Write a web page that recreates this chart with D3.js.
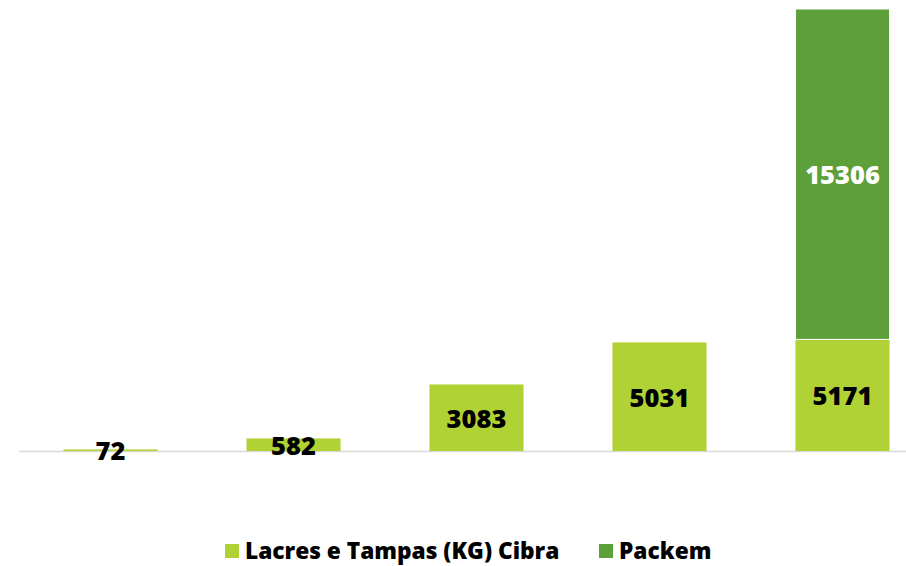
<!DOCTYPE html>
<html><head><meta charset="utf-8">
<script src="https://cdn.jsdelivr.net/npm/d3@7"></script>
<style>
body{margin:0;background:#fff;}
svg{display:block;font-family:"Open Sans",sans-serif;}
</style></head>
<body>
<svg id="chart" width="906" height="566"></svg>
<script>
const categories = ["1","2","3","4","5"];
const seriesNames = ["Lacres e Tampas (KG) Cibra","Packem"];
const cibra = [72, 582, 3083, 5031, 5171];
const packem = [0, 0, 0, 0, 15306];
const colors = ["#b1d235","#5da03a"];

const svg = d3.select("#chart");
const data = categories.map((c,i)=>({cat:c, cibra:cibra[i], packem:packem[i]}));
const stack = d3.stack().keys(["cibra","packem"])(data);

const x = d3.scaleBand().domain(categories).range([19,934]).paddingInner(0.486).paddingOuter(0.243);
const maxTotal = d3.max(data, d=>d.cibra+d.packem);
const y = d3.scaleLinear().domain([0,maxTotal]).range([451,9]);

svg.append("line").attr("x1",19).attr("x2",934).attr("y1",y(0)+0.5).attr("y2",y(0)+0.5)
  .attr("stroke","#d9d9d9").attr("stroke-width",1.5);

stack.forEach((s,si)=>{
  const g = svg.append("g");
  g.selectAll("rect").data(s.filter(d=>d[1]-d[0]>0)).join("rect")
    .attr("x",d=>x(d.data.cat)).attr("width",x.bandwidth())
    .attr("y",d=>y(d[1])).attr("height",d=>y(d[0])-y(d[1]))
    .attr("fill",colors[si]).attr("stroke","#fff").attr("stroke-width",si===1?1:0);
  g.selectAll("text").data(s.filter(d=>d[1]-d[0]>0)).join("text")
    .attr("x",d=>x(d.data.cat)+x.bandwidth()/2)
    .attr("y",d=>(y(d[0])+y(d[1]))/2 + 1)
    .attr("dy","0.36em")
    .attr("text-anchor","middle")
    .attr("font-size",25.5).attr("font-weight",800)
    .attr("fill",si===1?"#fff":"#000")
    .text(d=>d[1]-d[0]);
});

const legendItems = [{x:225,name:seriesNames[0],c:colors[0]},{x:599,name:seriesNames[1],c:colors[1]}];
const lg = svg.append("g");
legendItems.forEach(it=>{
  lg.append("rect").attr("x",it.x).attr("y",544).attr("width",14).attr("height",14).attr("fill",it.c);
  lg.append("text").attr("x",it.x+20).attr("y",551).attr("dy","0.36em")
    .attr("font-size",22.7).attr("font-weight",800).attr("fill","#000").text(it.name);
});
</script>
</body></html>
